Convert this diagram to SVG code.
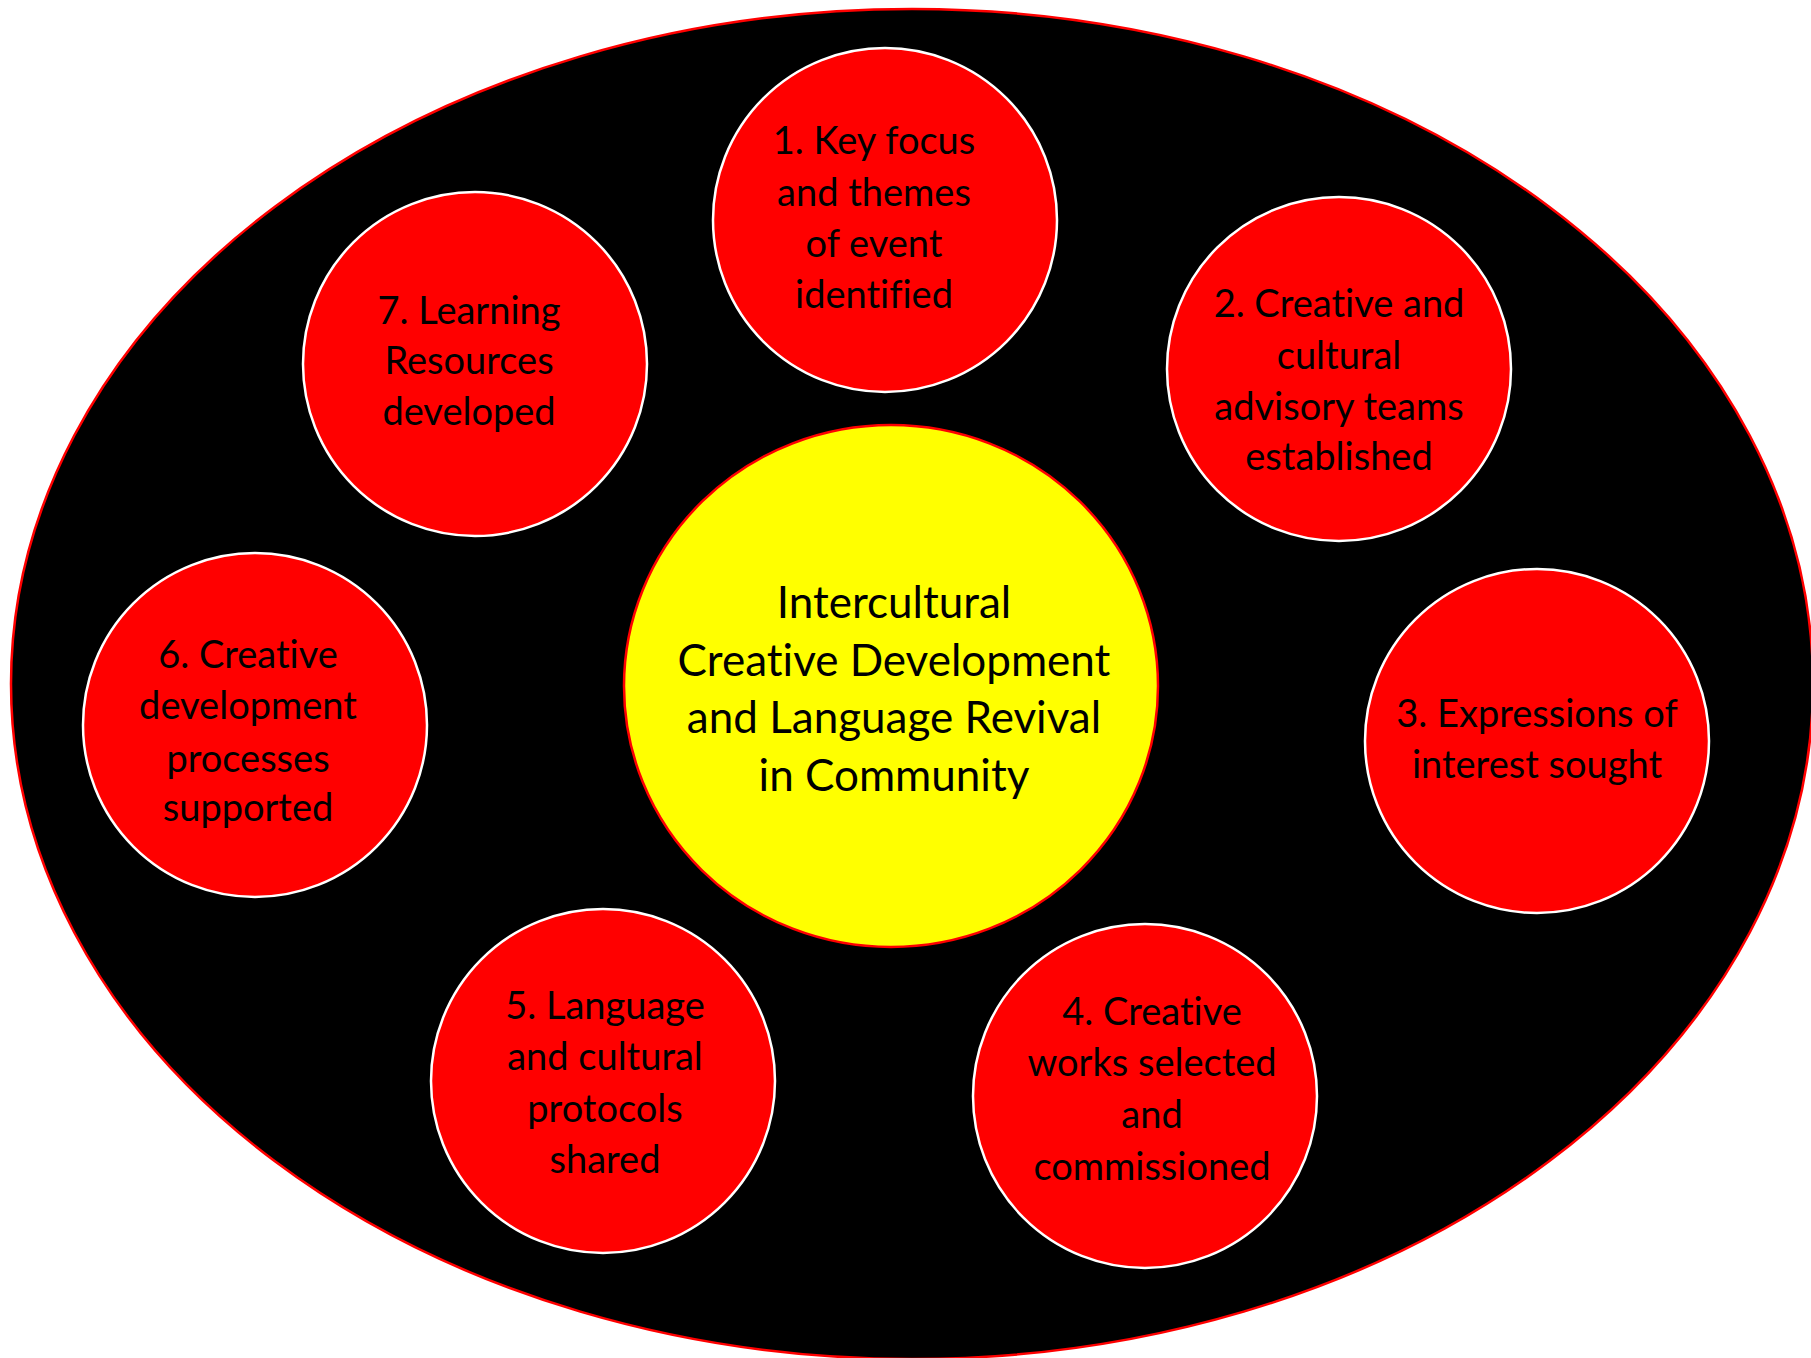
<svg xmlns="http://www.w3.org/2000/svg" width="1811" height="1358" viewBox="0 0 1811 1358">
<style>
.step{fill:#ff0000;stroke:#ffffff;stroke-width:2.5}
.hub{fill:#ffff00;stroke:#ff0000;stroke-width:2.5}
.t{font-family:Lato,"Liberation Sans",sans-serif;font-size:38px;fill:#000;text-anchor:middle;font-variant-ligatures:none}
.tc{font-family:Lato,"Liberation Sans",sans-serif;font-size:44px;fill:#000;text-anchor:middle;font-variant-ligatures:none}
</style>
<rect width="1811" height="1358" fill="#fff"/>
<g id="background">
<ellipse cx="912" cy="684" rx="901" ry="675" fill="#000" stroke="#ff0000" stroke-width="2.5"/>
</g>
<g id="connectors"></g>
<g id="hub">
<ellipse class="hub" cx="891" cy="686" rx="267" ry="261"/>
<text class="tc" x="894"><tspan x="894" y="618">Intercultural</tspan><tspan x="894" y="676">Creative Development</tspan><tspan x="894" y="733">and Language Revival</tspan><tspan x="894" y="791">in Community</tspan></text>
</g>
<g id="step1">
<circle class="step" cx="885" cy="220" r="172"/>
<text class="t"><tspan x="874" y="154">1. Key focus</tspan><tspan x="874" y="206">and themes</tspan><tspan x="874" y="257">of event</tspan><tspan x="874" y="308">identified</tspan></text>
</g>
<g id="step2">
<circle class="step" cx="1339" cy="369" r="172"/>
<text class="t"><tspan x="1339" y="317">2. Creative and</tspan><tspan x="1339" y="369">cultural</tspan><tspan x="1339" y="420">advisory teams</tspan><tspan x="1339" y="470">established</tspan></text>
</g>
<g id="step3">
<circle class="step" cx="1537" cy="741" r="172"/>
<text class="t"><tspan x="1537" y="727">3. Expressions of</tspan><tspan x="1537" y="778">interest sought</tspan></text>
</g>
<g id="step4">
<circle class="step" cx="1145" cy="1096" r="172"/>
<text class="t"><tspan x="1152" y="1025">4. Creative</tspan><tspan x="1152" y="1076">works selected</tspan><tspan x="1152" y="1128">and</tspan><tspan x="1152" y="1180">commissioned</tspan></text>
</g>
<g id="step5">
<circle class="step" cx="603" cy="1081" r="172"/>
<text class="t"><tspan x="605" y="1019">5. Language</tspan><tspan x="605" y="1070">and cultural</tspan><tspan x="605" y="1122">protocols</tspan><tspan x="605" y="1173">shared</tspan></text>
</g>
<g id="step6">
<circle class="step" cx="255" cy="725" r="172"/>
<text class="t"><tspan x="248" y="668">6. Creative</tspan><tspan x="248" y="719">development</tspan><tspan x="248" y="772">processes</tspan><tspan x="248" y="821">supported</tspan></text>
</g>
<g id="step7">
<circle class="step" cx="475" cy="364" r="172"/>
<text class="t"><tspan x="469" y="324">7. Learning</tspan><tspan x="469" y="374">Resources</tspan><tspan x="469" y="425">developed</tspan></text>
</g>
</svg>
